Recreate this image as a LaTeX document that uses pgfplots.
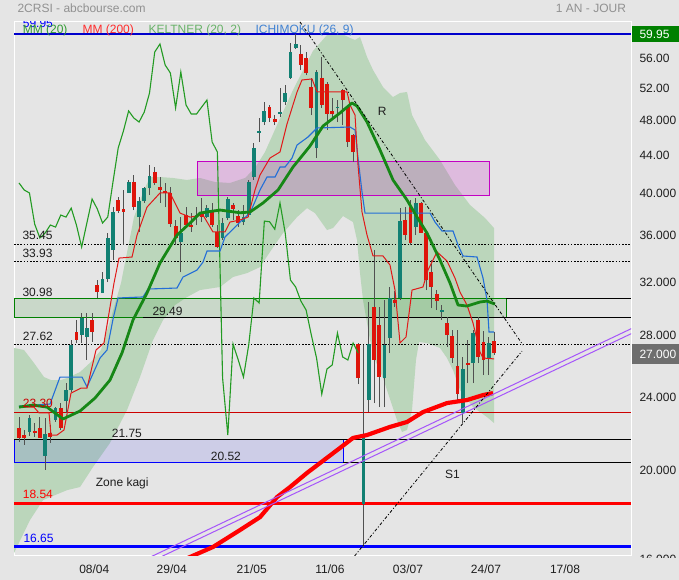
\documentclass[border=0pt]{standalone}
\usepackage{pgfplots}
\pgfplotsset{compat=1.18}
\usepackage{fontspec}
\setmainfont{Liberation Sans}

\definecolor{bgc}{RGB}{229,229,229}
\definecolor{bandc}{RGB}{187,214,187}
\definecolor{upc}{RGB}{18,128,115}
\definecolor{dnc}{RGB}{222,20,10}
\definecolor{wickc}{RGB}{80,80,80}
\definecolor{mm20c}{RGB}{22,135,22}
\definecolor{mm200c}{RGB}{255,0,0}
\definecolor{tenc}{RGB}{225,25,25}
\definecolor{kijc}{RGB}{35,110,215}
\definecolor{chic}{RGB}{35,155,35}
\definecolor{violc}{RGB}{165,85,250}
\definecolor{txt}{RGB}{30,30,30}
\definecolor{ttl}{RGB}{145,145,145}
\definecolor{boxg}{RGB}{0,128,0}
\definecolor{boxm}{RGB}{195,0,195}
\definecolor{lastc}{RGB}{110,110,110}

\pgfplotsset{
  wick/.style={draw=wickc, line width=0.9pt},
  cup/.style={draw=upc, line width=3.8pt},
  cdn/.style={draw=dnc, line width=3.8pt},
}
% one candle: index, open, high, low, close, style
\newcommand{\cdl}[6]{%
  \addplot[wick] coordinates {(#1,#4) (#1,#3)};
  \addplot[#6] coordinates {(#1,#2) (#1,#5)};
}

\begin{document}
\begin{tikzpicture}[font=\fontsize{12}{14}\selectfont]
\useasboundingbox (0,0) rectangle (679pt,580pt);
\fill[bgc] (0,0) rectangle (679pt,580pt);

\begin{axis}[
  at={(14pt,24pt)}, anchor=south west,
  width=617pt, height=534pt, scale only axis,
  xmin=-0.96, xmax=117.24,
  ymode=log, ymin=16.26, ymax=61.78,
  axis line style={draw=white, line width=1pt},
  axis background/.style={fill=bgc},
  ytick=\empty, yminorticks=false, xminorticks=false,
  xtick={14.42,29.25,44.58,59.58,74.52,89.46,104.6},
  xticklabels={08/04,29/04,21/05,11/06,03/07,24/07,17/08},
  major tick length=0pt, minor tick length=0pt,
  xticklabel style={anchor=base, yshift=-18pt, font=\fontsize{12}{14}\selectfont, text=txt},
]

% Keltner band
\addplot[fill=bandc, draw=none] coordinates {
(-0.96,27.35) (0.96,27.21) (2.87,26.34) (4.79,25.43) (6.13,25.24) (8.05,25.24) (9.2,25.37)
(11.69,25.75) (13.79,26.41) (15.71,27.21) (17.62,29.48) (19.54,32.17) (22.03,37.94) (23.95,40.59)
(25.1,41.93) (27.01,41.93) (29.5,41.83) (32.18,41.62) (34.67,41.83) (37.55,41.41) (40.42,41.31)
(43.3,41.83) (45.21,42.89) (47.13,44.64) (49.43,47.75) (52.49,52.12) (56.32,57.46) (59.0,59.80)
(61.49,60.10) (63.41,59.36) (64.37,59.06) (65.33,59.51) (66.67,56.60) (67.82,54.79) (69.73,52.51)
(71.65,51.21) (72.99,51.73) (74.33,51.86) (75.29,48.96) (77.78,45.99) (80.65,43.75) (83.52,41.10)
(86.4,39.10) (89.27,37.85) (91.0,36.91)
(91.0,22.67) (89.66,23.01) (86.97,23.59) (84.48,24.62) (83.14,25.88) (81.99,26.67) (80.65,27.35)
(78.16,27.69) (76.63,27.76) (76.05,26.54) (75.29,23.42) (74.33,22.28) (73.37,22.17) (72.41,22.84)
(69.73,25.37) (68.2,26.54) (67.24,27.90) (66.67,29.11) (65.9,30.83) (65.33,32.98) (64.75,35.82)
(63.98,37.47) (62.07,38.04) (60.15,36.91) (59.0,36.73) (56.7,38.32) (55.17,38.80) (53.26,37.94)
(50.57,36.45) (48.08,34.77) (46.17,33.48) (43.68,32.98) (41.0,32.66) (38.51,31.85) (34.67,31.61)
(32.18,31.06) (29.89,30.45) (27.59,29.33) (25.67,27.90) (23.18,25.43) (20.69,23.42) (17.43,21.57)
(14.18,20.31) (11.69,19.32) (9.2,19.17) (4.6,18.70) (2.11,17.79) (-0.96,16.38)
};

% zones
\addplot[draw=boxm, fill=boxm, fill opacity=0.18, line width=1pt] coordinates {
(34.16,40.0) (90.04,40.0) (90.04,43.6) (34.16,43.6) (34.16,40.0)};
\addplot[draw=boxg, fill=boxg, fill opacity=0.12, line width=1pt] coordinates {
(-0.96,29.49) (93.3,29.49) (93.3,30.98) (-0.96,30.98) (-0.96,29.49)};
\addplot[draw=blue, fill=blue, fill opacity=0.1, line width=1pt] coordinates {
(-0.96,20.52) (62.07,20.52) (62.07,21.75) (-0.96,21.75) (-0.96,20.52)};

% levels
\addplot[draw=blue!80!black, line width=1.2pt] coordinates {(-0.96,59.95) (117.24,59.95)};
\addplot[draw=black, line width=0.9pt, dash pattern=on 1.6pt off 1.6pt] coordinates {(-0.96,35.45) (117.24,35.45)};
\addplot[draw=black, line width=0.9pt, dash pattern=on 1.6pt off 1.6pt] coordinates {(-0.96,33.93) (117.24,33.93)};
\addplot[draw=black, line width=0.9pt, dash pattern=on 1.6pt off 1.6pt] coordinates {(-0.96,27.62) (117.24,27.62)};
\addplot[draw=black, line width=1pt] coordinates {(93.3,30.98) (117.24,30.98)};
\addplot[draw=black, line width=1pt] coordinates {(23.75,29.49) (117.24,29.49)};
\addplot[draw=red!80!black, line width=1pt] coordinates {(-0.96,23.30) (117.24,23.30)};
\addplot[draw=black, line width=1pt] coordinates {(-0.96,21.75) (117.24,21.75)};
\addplot[draw=black, line width=1pt] coordinates {(62.07,20.52) (117.24,20.52)};
\addplot[draw=red, line width=2.6pt] coordinates {(-0.96,18.54) (117.24,18.54)};
\addplot[draw=blue, line width=2.6pt] coordinates {(-0.96,16.65) (117.24,16.65)};

% candles
\cdl{0}{22.39}{23.01}{21.62}{21.84}{cdn}
\cdl{1}{22.00}{22.28}{21.46}{21.84}{cdn}
\cdl{2}{22.17}{23.13}{21.95}{22.96}{cup}
\cdl{3}{22.22}{22.67}{21.89}{22.11}{cdn}
\cdl{4}{22.39}{23.01}{21.84}{21.84}{cdn}
\cdl{5}{20.88}{22.96}{20.16}{22.06}{cup}
\cdl{6}{22.11}{22.56}{21.57}{21.89}{cdn}
\cdl{7}{22.84}{23.59}{22.73}{23.54}{cup}
\cdl{8}{23.54}{23.83}{22.28}{22.39}{cdn}
\cdl{9}{23.95}{25.05}{23.25}{24.62}{cup}
\cdl{10}{24.62}{27.90}{24.50}{27.55}{cup}
\cdl{11}{28.46}{29.33}{27.69}{27.90}{cdn}
\cdl{12}{28.25}{29.85}{27.69}{29.48}{cup}
\cdl{13}{28.11}{29.85}{26.54}{28.74}{cup}
\cdl{14}{29.33}{29.85}{27.76}{28.46}{cdn}
\cdl{15}{32.01}{32.41}{30.98}{31.45}{cdn}
\cdl{16}{31.37}{33.06}{31.37}{32.49}{cup}
\cdl{17}{32.49}{36.45}{32.25}{36.00}{cup}
\cdl{18}{34.94}{38.90}{34.07}{38.42}{cup}
\cdl{19}{39.59}{39.89}{38.32}{38.51}{cdn}
\cdl{20}{38.71}{40.59}{35.38}{38.42}{cdn}
\cdl{21}{40.29}{41.62}{40.29}{41.41}{cup}
\cdl{22}{41.41}{42.14}{38.61}{38.90}{cdn}
\cdl{23}{37.94}{39.89}{36.55}{39.49}{cup}
\cdl{24}{39.49}{40.89}{39.30}{40.79}{cup}
\cdl{25}{40.79}{43.21}{40.09}{42.04}{cup}
\cdl{26}{42.46}{42.99}{41.10}{41.31}{cdn}
\cdl{27}{40.89}{41.93}{39.30}{40.59}{cdn}
\cdl{28}{40.49}{41.31}{38.90}{40.29}{cdn}
\cdl{29}{40.29}{40.89}{37.00}{37.28}{cdn}
\cdl{30}{37.09}{37.66}{35.38}{36.00}{cdn}
\cdl{31}{35.64}{37.94}{33.06}{36.45}{cup}
\cdl{32}{38.13}{38.90}{37.00}{37.19}{cdn}
\cdl{33}{37.19}{38.32}{36.55}{37.00}{cdn}
\cdl{34}{37.94}{38.90}{37.19}{38.13}{cup}
\cdl{35}{38.32}{39.79}{37.47}{37.94}{cdn}
\cdl{36}{37.94}{39.10}{37.85}{38.80}{cup}
\cdl{37}{38.51}{39.30}{37.00}{37.19}{cdn}
\cdl{38}{36.55}{37.19}{35.11}{35.20}{cdn}
\cdl{39}{36.00}{37.85}{35.82}{37.38}{cup}
\cdl{40}{37.85}{39.89}{37.66}{39.69}{cup}
\cdl{41}{39.10}{39.30}{37.66}{38.71}{cdn}
\cdl{42}{38.04}{38.61}{37.00}{37.38}{cdn}
\cdl{43}{37.47}{39.10}{37.19}{37.94}{cup}
\cdl{44}{38.13}{41.62}{37.94}{41.41}{cup}
\cdl{45}{41.93}{45.65}{41.62}{45.08}{cup}
\cdl{46}{46.81}{48.59}{45.76}{47.04}{cup}
\cdl{47}{48.11}{50.58}{47.75}{49.46}{cup}
\cdl{48}{49.95}{50.20}{48.11}{48.59}{cdn}
\cdl{49}{48.47}{48.96}{47.75}{48.11}{cdn}
\cdl{50}{49.08}{52.38}{48.72}{49.33}{cup}
\cdl{51}{50.58}{52.77}{50.20}{51.73}{cup}
\cdl{52}{53.71}{58.61}{53.58}{57.31}{cup}
\cdl{53}{57.88}{59.95}{57.74}{58.47}{cup}
\cdl{54}{57.02}{58.32}{54.79}{55.48}{cdn}
\cdl{55}{56.46}{57.31}{54.11}{54.38}{cdn}
\cdl{56}{52.51}{53.71}{48.96}{49.83}{cdn}
\cdl{57}{45.08}{54.79}{43.97}{54.52}{cup}
\cdl{58}{53.71}{56.60}{49.83}{50.20}{cdn}
\cdl{59}{52.90}{53.17}{47.16}{49.08}{cdn}
\cdl{60}{49.46}{51.08}{48.35}{49.08}{cdn}
\cdl{61}{49.80}{50.83}{48.11}{50.00}{cup}
\cdl{62}{52.12}{52.30}{47.75}{50.83}{cdn}
\cdl{63}{49.95}{50.10}{45.20}{45.76}{cdn}
\cdl{64}{46.57}{46.70}{43.53}{44.64}{cdn}
\cdl{65}{27.62}{27.70}{24.99}{25.37}{cdn}
\cdl{66}{18.52}{27.55}{16.65}{22.00}{cup}
\cdl{67}{24.01}{30.68}{23.30}{27.62}{cup}
\cdl{68}{30.30}{34.94}{23.83}{26.54}{cdn}
\cdl{69}{28.96}{30.30}{23.59}{25.43}{cdn}
\cdl{70}{25.37}{30.83}{23.59}{27.55}{cup}
\cdl{71}{28.04}{31.85}{27.00}{30.99}{cup}
\cdl{72}{30.83}{31.50}{30.30}{30.60}{cdn}
\cdl{73}{30.99}{38.80}{30.83}{37.56}{cup}
\cdl{74}{37.66}{38.90}{35.82}{36.27}{cdn}
\cdl{75}{38.90}{39.59}{35.38}{35.55}{cdn}
\cdl{76}{37.00}{39.79}{36.27}{39.30}{cup}
\cdl{77}{39.30}{39.40}{36.45}{36.45}{cdn}
\cdl{78}{36.45}{36.55}{31.61}{32.41}{cdn}
\cdl{79}{33.06}{34.07}{30.22}{31.85}{cdn}
\cdl{80}{31.29}{31.61}{30.07}{30.75}{cdn}
\cdl{81}{29.92}{30.45}{29.33}{30.07}{cup}
\cdl{82}{29.11}{29.55}{27.41}{28.25}{cdn}
\cdl{83}{28.18}{28.60}{26.34}{26.67}{cdn}
\cdl{84}{26.15}{28.60}{23.83}{24.37}{cdn}
\cdl{85}{23.25}{26.74}{22.67}{25.95}{cup}
\cdl{86}{26.34}{27.90}{25.05}{26.21}{cdn}
\cdl{87}{26.34}{28.60}{25.05}{28.39}{cup}
\cdl{88}{29.33}{29.55}{26.34}{26.74}{cdn}
\cdl{89}{27.76}{28.53}{25.56}{26.54}{cdn}
\cdl{90}{26.67}{28.11}{25.56}{27.69}{cup}
\cdl{91}{27.83}{28.46}{26.87}{27.00}{cdn}

% Ichimoku lagging line
\addplot[draw=chic, line width=1.1pt] coordinates {
(0,41.31) (1,40.59) (2,40.29) (3,37.28) (4,36.00) (5,36.45) (6,37.19) (7,37.00) (8,38.13) (9,37.94)
(10,38.80) (11,37.19) (12,35.20) (13,37.38) (14,39.69) (15,38.71) (16,37.38) (17,37.94) (18,41.41)
(19,45.08) (20,47.04) (21,49.46) (22,48.59) (23,48.11) (24,49.33) (25,51.73) (26,57.31) (27,58.47)
(28,55.48) (29,54.38) (30,49.83) (31,54.52) (32,50.20) (33,49.08) (34,49.08) (35,49.95) (36,50.83)
(37,45.76) (38,44.64) (39,25.37) (40,22.00) (41,27.62) (42,26.54) (43,25.43) (44,27.55) (45,30.99)
(46,30.60) (47,37.56) (48,37.50) (49,36.80) (50,39.30) (51,36.45) (52,32.41) (53,31.85) (54,30.75)
(55,30.07) (56,28.25) (57,26.67) (58,24.37) (59,25.95) (60,26.21) (61,28.39) (62,26.74) (63,26.54)
(64,27.69) (65,27.00)
};

% Ichimoku kijun (blue)
\addplot[draw=kijc, line width=1.1pt] coordinates {
(0,23.65) (5.94,23.77) (7.85,25.43) (12.07,25.43) (13.03,24.81) (15.52,26.67) (16.86,27.21)
(18.01,29.40) (18.97,30.99) (23.75,31.07) (24.71,31.69) (30.27,31.77) (31.42,32.66) (34.1,33.23)
(35.25,33.90) (36.02,34.85) (38.51,34.85) (39.46,36.09) (42.34,37.47) (44.25,38.32) (46.17,40.59)
(47.51,41.93) (49.04,41.93) (50,42.99) (50.96,42.99) (52.3,43.97) (53.26,45.42) (55.36,46.34)
(57.09,47.40) (63.41,47.51) (64.37,47.16) (64.94,43.97) (65.71,40.39) (66.28,38.32) (78.74,38.32)
(79.69,37.47) (81.03,36.64) (83.14,36.64) (84.1,35.38) (85.06,34.42) (87.74,34.33) (88.89,32.57)
(89.66,30.83) (90.04,28.46) (91,28.46)
};

% Ichimoku tenkan (red)
\addplot[draw=tenc, line width=1.0pt] coordinates {
(0,23.59) (2.87,23.59) (3.83,23.25) (5.75,23.25) (6.13,22.00) (7.28,22.00) (8.62,22.28) (9.96,24.43)
(11.88,24.74) (13.03,24.74) (14.75,27.21) (16.28,27.69) (18.2,32.17) (19.16,34.24) (21.65,34.33)
(22.61,36.27) (24.52,38.90) (27.01,40.29) (28.93,40.29) (30.84,38.32) (32.76,37.94) (35.25,38.13)
(37.16,36.55) (39.46,36.55) (40.42,37.47) (42.34,37.66) (43.87,37.94) (45.21,40.59) (46.17,42.14)
(48.08,43.97) (50,44.64) (51.34,47.87) (53.26,51.86) (54.21,53.44) (56.13,53.58) (57.09,51.86)
(62.84,51.86) (63.41,50.20) (64.37,48.96) (64.94,43.21) (65.71,38.42) (66.67,36.27) (67.82,34.42)
(69.73,34.42) (71.07,33.65) (72.03,31.61) (72.99,27.69) (74.14,28.11) (75.29,31.61) (77.39,31.85)
(78.35,33.23) (80.08,34.77) (81.99,33.99) (83.52,32.57) (84.48,31.45) (85.82,30.45) (86.97,29.11)
(88.31,27.07) (88.89,26.67) (91,26.61)
};

% MM (20)
\addplot[draw=mm20c, line width=2.8pt, line join=round] coordinates {
(0,23.59) (2.68,23.71) (5.36,23.59) (8.43,22.90) (11.69,23.36) (14.56,24.13) (17.43,25.24)
(19.73,27.01) (21.84,29.33) (24.52,31.38) (27.01,33.82) (30.27,36.27) (32.76,37.38) (34.67,38.32)
(38.51,38.61) (42.34,38.35) (44.25,38.42) (46.74,39.30) (49.62,40.59) (52.49,42.99) (55.75,45.31)
(58.24,47.63) (61.49,49.21) (63.79,50.45) (64.75,50.08) (66.67,48.11) (69.16,44.86) (71.65,41.62)
(74.33,39.59) (76.25,37.94) (78.16,36.45) (80.65,34.07) (82.57,32.17) (84.1,30.45) (85.82,30.37)
(88.31,30.68) (89.66,30.75) (91.19,30.52)
};

% MM (200)
\addplot[draw=mm200c, line width=4.2pt, line join=round] coordinates {
(31.8,16.13) (37.16,16.63) (42.34,17.35) (46.17,17.92) (49.43,18.84) (51.92,19.32) (55.17,20.01)
(57.66,20.51) (61.49,21.30) (63.98,21.84) (66.67,22.00) (71.07,22.45) (74.33,22.73) (77.39,23.30)
(81.99,23.83) (85.82,24.01) (88.89,24.31) (90.8,24.43)
};

% channel lines
\addplot[draw=violc, line width=1pt] coordinates {(21.26,15.83) (118.97,29.00)};
\addplot[draw=violc, line width=1pt] coordinates {(21.26,15.64) (118.97,28.64)};
\addplot[draw=black, line width=0.8pt, dash pattern=on 3pt off 2pt on 1pt off 2pt] coordinates {(53.83,61.78) (96.55,27.55)};
\addplot[draw=black, line width=0.8pt, dash pattern=on 3pt off 2pt on 1pt off 2pt] coordinates {(64.29,16.26) (96.36,27.14)};
\end{axis}

% header
\node[anchor=base west, text=ttl] at (14pt,567pt) {2CRSI - abcbourse.com};
\node[anchor=base east, text=ttl] at (629.5pt,567pt) {1 AN - JOUR};
\begin{scope}
\clip (14pt,24pt) rectangle (631pt,558pt);
\node[anchor=base west, text=blue] at (19.3pt,552.7pt) {59.95};
\end{scope}
\node[anchor=base west, text={rgb,255:red,50;green,155;blue,50}] at (19.3pt,546pt) {MM (20)};
\node[anchor=base west, text={rgb,255:red,255;green,45;blue,45}] at (79pt,546pt) {MM (200)};
\node[anchor=base west, text={rgb,255:red,105;green,178;blue,105}] at (145pt,546pt) {KELTNER (20, 2)};
\node[anchor=base west, text={rgb,255:red,65;green,130;blue,210}] at (252pt,546pt) {ICHIMOKU (26, 9)};

% level labels
\node[anchor=base west, text=txt] at (19pt,340pt) {35.45};
\node[anchor=base west, text=txt] at (19pt,322.7pt) {33.93};
\node[anchor=base west, text=txt] at (19pt,283.3pt) {30.98};
\node[anchor=base west, text=txt] at (149pt,264pt) {29.49};
\node[anchor=base west, text=txt] at (19.3pt,239.3pt) {27.62};
\node[anchor=base west, text=red!80!black] at (19.3pt,172.7pt) {23.30};
\node[anchor=base west, text=txt] at (108.3pt,142.7pt) {21.75};
\node[anchor=base west, text=txt] at (207.3pt,119pt) {20.52};
\node[anchor=base west, text=red] at (19.3pt,81pt) {18.54};
\node[anchor=base west, text=blue] at (20pt,37.7pt) {16.65};
\node[anchor=base west, text=txt] at (92.3pt,93.3pt) {Zone kagi};
\node[anchor=base west, text=txt] at (441.7pt,101.7pt) {S1};
\node[anchor=base west, text=txt] at (374.3pt,464pt) {R};

% right price scale
\fill[boxg] (632pt,538.3pt) rectangle (679pt,554pt);
\node[anchor=base west, text=white] at (636pt,541.7pt) {59.95};
\fill[lastc] (632pt,216pt) rectangle (679pt,236pt);
\node[anchor=base west, text=white] at (636pt,221pt) {27.000};
\node[anchor=base west, text=txt] at (636pt,517.2pt) {56.00};
\node[anchor=base west, text=txt] at (636pt,487.6pt) {52.00};
\node[anchor=base west, text=txt] at (636pt,455.6pt) {48.000};
\node[anchor=base west, text=txt] at (636pt,420.8pt) {44.00};
\node[anchor=base west, text=txt] at (636pt,382.6pt) {40.000};
\node[anchor=base west, text=txt] at (636pt,340.5pt) {36.000};
\node[anchor=base west, text=txt] at (636pt,293.4pt) {32.000};
\node[anchor=base west, text=txt] at (636pt,240pt) {28.000};
\node[anchor=base west, text=txt] at (636pt,178.3pt) {24.000};
\node[anchor=base west, text=txt] at (636pt,105.4pt) {20.000};
\begin{scope}
\clip (632pt,22pt) rectangle (679pt,60pt);
\node[anchor=base west, text=txt] at (636pt,16.2pt) {16.000};
\end{scope}
\end{tikzpicture}
\end{document}
